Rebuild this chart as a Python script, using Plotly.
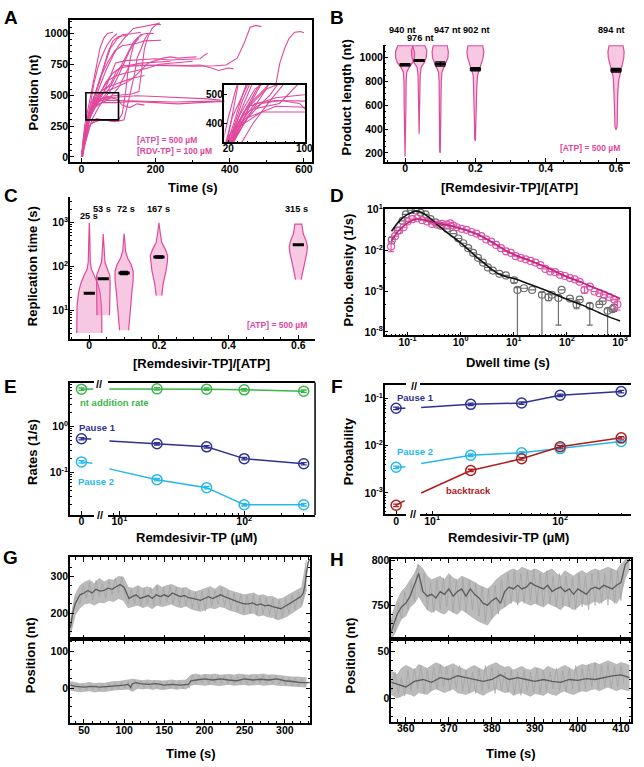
import plotly.graph_objects as go

W, H = 644, 767
FONT = "Liberation Sans, Arial, sans-serif"
PINK = "#e0489c"
PINK_FILL = "rgba(235,110,175,0.38)"
GREEN = "#3db54a"
DBLUE = "#2e3192"
LBLUE = "#25b7ea"
DRED = "#b01c1c"
RAW = "#b0b0b0"
SMOOTH = "#5c5c5c"

# ---------------- DATA ----------------
# A: trajectories (time s, position nt)
A_TIMES = [
    [0, 3, 6, 9, 14, 20, 28, 35, 42, 50, 60, 70, 85],
    [1, 5, 10, 18, 25, 35, 48, 60, 72, 85, 100, 125],
    [0, 6, 15, 24, 38, 50, 62, 78, 95, 110, 140, 160],
    [2, 8, 20, 34, 48, 66, 85, 100, 115, 140, 170, 200, 215],
    [0, 5, 14, 28, 44, 60, 75, 92, 120, 160, 200, 240, 280, 320, 330, 340],
    [3, 10, 22, 40, 58, 80, 95, 110, 150, 200, 260, 300, 360, 390, 420, 440, 455, 470, 485],
    [0, 12, 28, 48, 70, 100, 150, 200, 250, 300, 340, 375],
    [1, 15, 32, 55, 90, 140, 200, 260, 320, 380, 420],
    [0, 18, 40, 70, 120, 180, 250, 330, 420, 480, 510, 525, 535, 548, 560, 575, 590, 600],
    [2, 20, 42, 70, 100, 135, 155, 163, 170, 178, 190, 205, 212],
    [0, 25, 50, 80, 100, 115, 125, 135, 145, 150, 160, 170, 180],
    [1, 10, 25, 45, 65, 85, 105, 130, 170, 220, 280, 320, 350, 370, 395, 410],
    [0, 8, 20, 35, 50, 70, 90, 110, 130, 150, 170, 200, 215],
    [2, 14, 30, 50, 72, 95, 120, 150, 180, 210, 250, 290, 300],
    [0, 6, 16, 30, 46, 64, 80, 100, 120, 140, 160, 175, 195],
    [1, 10, 22, 36, 55, 75, 95, 110, 130, 150, 170],
    [0, 20, 40, 60, 80, 90, 100, 110, 118, 125, 132, 140, 150, 165],
    [3, 12, 28, 46, 64, 84, 100, 118, 130, 142, 155],
    [0, 4, 10, 18, 26, 34, 44, 56, 68, 82, 96],
    [2, 9, 19, 32, 48, 66, 84, 100, 120, 140, 155, 170],
    [0, 16, 36, 60, 90, 120, 140, 160, 180, 200, 220, 240, 260, 280, 310],
    [1, 22, 46, 74, 100, 130, 160, 200, 240],
]
A_POS = [
    [0, 80, 200, 260, 330, 420, 520, 640, 760, 880, 960, 1000, 1010],
    [0, 140, 220, 340, 380, 480, 600, 720, 850, 940, 975, 985],
    [0, 160, 300, 420, 520, 620, 740, 880, 950, 990, 1000, 1010],
    [0, 200, 330, 450, 560, 700, 820, 900, 960, 1040, 1060, 1075, 1070],
    [0, 100, 250, 380, 440, 520, 640, 760, 780, 790, 795, 785, 790, 795, 820, 840],
    [0, 180, 330, 460, 520, 600, 700, 740, 745, 740, 738, 735, 738, 745, 800, 930, 1050, 1065, 1055],
    [0, 240, 380, 470, 480, 485, 495, 490, 485, 480, 470, 460],
    [0, 280, 390, 440, 440, 450, 440, 430, 440, 450, 445],
    [0, 290, 420, 460, 455, 450, 445, 450, 450, 455, 470, 600, 760, 880, 960, 1010, 1015, 1005],
    [0, 300, 460, 490, 500, 510, 530, 700, 880, 960, 1040, 1080, 1085],
    [0, 270, 300, 295, 290, 300, 420, 560, 700, 800, 870, 950, 1000],
    [0, 150, 330, 480, 600, 680, 720, 735, 740, 745, 740, 745, 720, 700, 720, 715],
    [0, 180, 340, 500, 640, 760, 860, 900, 910, 920, 940, 945, 945],
    [0, 220, 400, 520, 620, 660, 680, 700, 720, 750, 760, 770, 775],
    [0, 120, 260, 380, 440, 500, 580, 700, 820, 930, 990, 1000, 1000],
    [0, 200, 360, 430, 470, 480, 470, 420, 400, 430, 420],
    [0, 250, 310, 300, 290, 285, 300, 350, 500, 680, 800, 900, 960, 990],
    [0, 140, 300, 400, 480, 560, 660, 780, 860, 920, 960],
    [0, 60, 180, 320, 460, 600, 720, 820, 900, 960, 1000],
    [0, 160, 310, 430, 520, 560, 580, 600, 620, 640, 650, 660],
    [0, 300, 440, 520, 560, 600, 640, 700, 760, 780, 800, 810, 800, 805, 810],
    [0, 320, 450, 470, 560, 740, 760, 770, 775],
]

# B: product length violins
B_X = [0.0, 0.04, 0.1, 0.2, 0.6]
B_MEAN = [940, 976, 947, 902, 894]
B_ERR = [9, 8, 18, 13, 15]
B_LABELS = ["940 nt", "976 nt", "947 nt", "902 nt", "894 nt"]
B_PROF_Y = [
    [170, 400, 600, 800, 880, 920, 960, 1000, 1050, 1100],
    [360, 600, 850, 920, 960, 1000, 1060, 1100],
    [200, 210, 400, 600, 800, 880, 920, 960, 1000, 1050, 1100],
    [300, 320, 450, 600, 750, 850, 900, 950, 1000, 1050, 1100],
    [395, 420, 500, 600, 700, 800, 850, 900, 950, 1000, 1050, 1100],
]
B_PROF_W = [
    [0.0, 0.002, 0.0025, 0.003, 0.005, 0.012, 0.022, 0.027, 0.027, 0.021],
    [0.0, 0.002, 0.003, 0.006, 0.015, 0.020, 0.022, 0.017],
    [0.0, 0.0015, 0.002, 0.002, 0.003, 0.005, 0.010, 0.017, 0.022, 0.023, 0.020],
    [0.0, 0.002, 0.0025, 0.003, 0.004, 0.006, 0.011, 0.017, 0.022, 0.024, 0.021],
    [0.0, 0.003, 0.0035, 0.004, 0.005, 0.007, 0.009, 0.013, 0.018, 0.022, 0.023, 0.020],
]

# C: replication time violins
C_X = [0.0, 0.04, 0.1, 0.2, 0.6]
C_MED = [25, 53, 72, 167, 315]
C_ERR = [0, 0, 6, 10, 0]
C_LABELS = ["25 s", "53 s", "72 s", "167 s", "315 s"]
C_PROF_Y = [
    [3.1, 6.3, 12.6, 25, 40, 63, 89, 126, 251, 501, 1000],
    [7.9, 20, 40, 63, 89, 126, 200, 316, 550],
    [3.6, 10, 25, 50, 79, 112, 158, 224, 316, 562],
    [22, 40, 79, 126, 178, 251, 355, 562, 1000],
    [51, 79, 126, 200, 282, 398, 562, 708, 933],
]
C_PROF_W = [
    [0.036, 0.036, 0.035, 0.031, 0.025, 0.015, 0.006, 0.003, 0.002, 0.0015, 0.0],
    [0.018, 0.019, 0.020, 0.019, 0.012, 0.005, 0.003, 0.002, 0.0],
    [0.013, 0.017, 0.022, 0.026, 0.026, 0.020, 0.010, 0.004, 0.003, 0.0],
    [0.008, 0.012, 0.020, 0.024, 0.025, 0.018, 0.008, 0.004, 0.0],
    [0.008, 0.012, 0.018, 0.024, 0.026, 0.022, 0.014, 0.012, 0.010],
]

# D: dwell time distributions (log10 values)
D_CTRL_LX = [-1.296, -1.185, -1.093, -1.031, -0.938, -0.846, -0.753, -0.66, -0.568, -0.475,
             -0.383, -0.259, -0.136, -0.043, 0.049, 0.142, 0.235, 0.327, 0.42, 0.512,
             0.605, 0.728, 0.852, 1.006, 1.068, 1.191, 1.346, 1.53, 1.654, 1.716,
             1.84, 1.90, 2.056, 2.18, 2.24, 2.43, 2.611, 2.673, 2.765, 2.858, 2.889]
D_CTRL_LY = [-1.25, -0.54, 0.17, 0.645, 0.95, 0.93, 0.76, 0.645, 0.29, 0.055,
             -0.18, -0.42, -0.77, -1.13, -1.48, -1.84, -2.19, -2.55, -2.90, -3.26,
             -3.49, -3.73, -3.85, -4.2, -4.91, -4.79, -4.91, -5.27, -5.45, -5.27,
             -5.5, -4.91, -5.55, -5.98, -5.62, -6.09, -5.98, -5.74, -6.45, -6.33, -6.21]
D_CTRL_ERR_IDX = [0, 23, 24, 27, 28, 30, 33, 35, 38, 40]
D_CTRL_ERR_LO = [-1.5, -4.4, -9.0, -9.0, -5.7, -7.5, -6.3, -7.5, -9.0, -6.5]
D_CTRL_ERR_HI = [-1.05, -4.05, -4.75, -5.1, -5.25, -5.35, -5.75, -5.9, -6.3, -6.0]
D_RDV_LX = [-1.309, -1.235, -1.154, -1.074, -1.0, -0.907, -0.815, -0.722, -0.63, -0.537,
            -0.444, -0.352, -0.259, -0.198, -0.136, -0.074, 0.019, 0.111, 0.204, 0.296,
            0.389, 0.481, 0.574, 0.667, 0.759, 0.852, 0.944, 1.037, 1.13, 1.222,
            1.315, 1.407, 1.5, 1.593, 1.685, 1.778, 1.87, 1.963, 2.056, 2.148,
            2.24, 2.33, 2.43, 2.52, 2.61, 2.70, 2.80, 2.89, 2.95]
D_RDV_LY = [-1.72, -0.96, -0.54, -0.30, 0.125, 0.29, 0.36, 0.22, 0.125, -0.06,
            -0.11, -0.06, -0.11, -0.02, -0.18, -0.30, -0.42, -0.49, -0.65, -0.77,
            -0.96, -1.2, -1.36, -1.6, -1.84, -2.07, -2.19, -2.43, -2.55, -2.66,
            -2.78, -2.9, -3.09, -3.37, -3.56, -3.61, -3.80, -3.89, -4.04, -4.13,
            -4.32, -4.91, -4.67, -5.03, -5.15, -5.27, -5.45, -5.62, -5.98]
D_RDV_ERR_IDX = [0, 41, 48]
D_RDV_ERR_LO = [-2.1, -5.15, -6.4]
D_RDV_ERR_HI = [-1.35, -4.7, -5.6]
D_CTRL_FIT_LX = [-1.301, -1.155, -1.0, -0.854, -0.745, -0.602, -0.456, -0.301, -0.155, 0.0,
                 0.176, 0.301, 0.477, 0.602, 0.699, 0.845, 1.0, 1.301, 1.699, 2.0, 2.301, 2.699, 3.0]
D_CTRL_FIT_LY = [-0.6, 0.15, 0.65, 0.88, 0.8, 0.45, -0.05, -0.55, -1.0, -1.45,
                 -2.05, -2.5, -3.05, -3.45, -3.7, -3.92, -4.08, -4.5, -5.1, -5.6, -6.05, -6.75, -7.2]
D_RDV_FIT_LX = [-1.301, -1.155, -1.0, -0.886, -0.77, -0.602, -0.398, -0.222, 0.0, 0.176,
                0.301, 0.477, 0.699, 0.845, 1.0, 1.301, 1.699, 2.0, 2.301, 2.699, 3.0]
D_RDV_FIT_LY = [-1.3, -0.5, 0.0, 0.25, 0.3, 0.15, -0.05, -0.15, -0.4, -0.62,
                -0.8, -1.15, -1.65, -2.0, -2.3, -2.75, -3.4, -3.95, -4.4, -5.05, -5.55]

# E: rates vs [RDV-TP]
CONC = [20, 50, 100, 300]
E_NT0, E_NT = 6.4, [6.5, 6.4, 6.2, 5.8]
E_P10, E_P1 = 0.54, [0.42, 0.36, 0.20, 0.155]
E_P20, E_P2 = 0.17, [0.07, 0.047, 0.020, 0.020]
E_BREAK_X = 8.3
E_BREAK = {"nt": (6.45, 6.45), "p1": (0.53, 0.48), "p2": (0.158, 0.12)}  # (stub end, log-seg start)

# F: probabilities vs [RDV-TP]
F_P10, F_P1 = 0.062, [0.075, 0.08, 0.117, 0.14]
F_P20, F_P2 = 0.0035, [0.0063, 0.0071, 0.0087, 0.0123]
F_BT0, F_BT = 0.00055, [0.0030, 0.0053, 0.0095, 0.0147]
F_BREAK_X = 8.2
F_BREAK = {"p1": (0.062, 0.064), "p2": (0.0036, 0.0042), "bt": (0.00069, 0.001)}

# G: raw-signal spread (upper / lower envelope on a regular time grid), raw samples, smoothed trace
G_T0, G_DT = 33, 4
G_BAND_T0, G_BAND_DT = 33, 6
G_TOP_HI = [180, 250, 275, 285, 290, 280, 295, 285, 292, 290, 300, 298, 270, 268, 275, 268, 272, 265, 278, 270,
            275, 278, 272, 268, 270, 262, 258, 262, 268, 272, 265, 275, 270, 262, 258, 255, 250, 252, 255, 248,
            250, 245, 245, 238, 240, 248, 255, 262, 270, 345]
G_TOP_LO = [140, 195, 215, 225, 228, 222, 230, 228, 235, 232, 240, 235, 215, 218, 222, 215, 220, 212, 222, 218,
            222, 225, 218, 215, 220, 212, 208, 205, 210, 215, 212, 218, 215, 208, 205, 200, 195, 198, 200, 192,
            195, 190, 188, 182, 185, 192, 200, 208, 218, 265]
G_TOP_RAW = [150, 215, 245, 225, 275, 240, 285, 235, 290, 245, 280, 240, 290, 250, 295, 255, 300, 250, 225, 265,
             225, 270, 220, 265, 225, 270, 220, 275, 225, 270, 230, 275, 225, 270, 222, 268, 220, 262, 215, 258,
             210, 260, 205, 265, 220, 262, 225, 270, 220, 262, 210, 255, 205, 250, 200, 248, 200, 250, 195, 245,
             198, 242, 195, 240, 185, 235, 190, 240, 200, 250, 210, 258, 225, 265, 340]
G_TOP_SM_T = [33, 36, 39, 42, 45, 50, 55, 60, 65, 70, 75, 80, 85, 90, 95, 100, 103, 106, 110, 115, 120, 125, 130,
              135, 140, 145, 150, 155, 160, 165, 170, 175, 180, 185, 190, 195, 200, 205, 210, 215, 220, 225, 230,
              235, 240, 245, 250, 255, 260, 265, 270, 275, 280, 285, 290, 295, 300, 305, 310, 315, 320, 323, 325,
              327, 329, 331]
G_TOP_SM_Y = [160, 200, 225, 240, 250, 255, 262, 255, 265, 260, 262, 268, 265, 272, 278, 270, 255, 240, 245, 250,
              240, 245, 248, 240, 250, 245, 250, 245, 255, 250, 245, 248, 242, 240, 238, 235, 240, 245, 240, 245,
              250, 245, 240, 235, 232, 228, 225, 225, 228, 222, 225, 220, 222, 218, 215, 212, 218, 225, 232, 238,
              245, 255, 275, 312, 338, 348]
G_BOT_HI = [18, 15, 12, 13, 15, 12, 14, 13, 16, 18, 18, 20, 22, 24, 22, 20, 22, 20, 21, 19,
            20, 22, 20, 22, 22, 35, 38, 35, 37, 36, 38, 35, 36, 37, 35, 38, 36, 35, 37, 36,
            38, 35, 36, 34, 33, 32, 30, 30, 28, 28]
G_BOT_LO = [-5, -8, -10, -8, -7, -10, -8, -9, -6, -5, -4, -3, -2, -8, 0, -2, 0, -3, -1, -4,
            -2, 0, -3, -1, -2, 8, 10, 9, 8, 10, 9, 7, 9, 10, 8, 9, 10, 8, 9, 10,
            8, 9, 10, 8, 7, 6, 5, 4, 3, 3]
G_BOT_RAW = [15, -2, 12, -5, 10, -6, 12, -3, 10, -5, 11, -4, 12, -3, 14, -2, 16, 0, 18, -8,
             22, 3, 20, 2, 18, 0, 20, 2, 18, -2, 17, 0, 18, -1, 17, -2, 18, 0, 35, 12,
             34, 14, 36, 12, 33, 14, 35, 13, 34, 12, 32, 10, 33, 12, 35, 13, 34, 12, 33, 14,
             35, 12, 33, 12, 34, 10, 30, 8, 28, 6, 26, 5, 25, 6, 18]
G_BOT_SM_T = [33, 40, 50, 60, 70, 80, 90, 100, 105, 108, 110, 115, 120, 130, 140, 150, 160, 170, 180, 183, 190,
              200, 210, 220, 230, 240, 250, 260, 270, 280, 290, 300, 310, 320, 331]
G_BOT_SM_Y = [8, 5, 3, 5, 3, 4, 6, 8, 10, 2, 12, 15, 12, 10, 12, 8, 10, 8, 10, 20, 22,
              25, 22, 25, 22, 20, 25, 22, 24, 22, 25, 20, 18, 15, 15]

# H: traces
H_T0, H_DT = 356, 0.75
H_BAND_T0, H_BAND_DT = 356, 1
H_TOP_HI = [720, 742, 755, 765, 770, 778, 785, 795, 790, 782, 778, 780, 782, 778, 785, 780, 778, 782, 780, 778,
            775, 772, 770, 768, 772, 778, 782, 785, 788, 790, 788, 792, 790, 788, 790, 788, 785, 788, 790, 785,
            782, 788, 785, 782, 786, 788, 785, 788, 790, 788, 790, 792, 790, 788, 795, 800, 805]
H_TOP_LO = [700, 715, 725, 735, 738, 748, 752, 760, 752, 745, 742, 745, 742, 740, 745, 742, 740, 745, 742, 738,
            735, 732, 730, 728, 735, 740, 745, 748, 752, 755, 752, 755, 752, 750, 752, 750, 748, 752, 750, 748,
            745, 750, 748, 745, 748, 752, 750, 752, 755, 752, 755, 758, 755, 752, 760, 780, 790]
H_TOP_RAW = [700, 735, 720, 752, 735, 765, 745, 775, 755, 795, 765, 785, 745, 775, 742, 778, 745, 780, 748, 782,
             742, 778, 745, 780, 742, 778, 745, 775, 738, 770, 732, 768, 735, 772, 740, 778, 748, 785, 752, 788,
             750, 785, 752, 788, 755, 790, 752, 785, 750, 788, 752, 782, 748, 785, 750, 782, 748, 780, 745, 785,
             748, 782, 745, 785, 750, 788, 752, 785, 750, 790, 752, 788, 755, 790, 805]
H_TOP_SM_T = [356, 357, 358, 359, 360, 361, 362, 363, 363.5, 364, 365, 366, 367, 368, 369, 370, 371, 372, 373,
              374, 375, 376, 377, 378, 379, 380, 381, 382, 383, 384, 385, 386, 387, 388, 389, 390, 391, 392, 393,
              394, 395, 396, 397, 398, 399, 400, 401, 402, 403, 404, 405, 406, 407, 408, 409, 410, 410.5, 411, 412]
H_TOP_SM_Y = [712, 725, 740, 748, 752, 760, 772, 785, 775, 765, 760, 762, 758, 765, 762, 768, 760, 765, 768,
              760, 768, 762, 758, 752, 750, 755, 758, 752, 765, 770, 768, 772, 768, 770, 775, 772, 770, 768, 772,
              765, 768, 770, 765, 768, 762, 768, 765, 762, 768, 770, 768, 772, 770, 768, 772, 775, 785, 795, 800]
H_BOT_HI = [30, 28, 25, 32, 35, 33, 30, 36, 34, 32, 35, 38, 36, 33, 35, 37, 34, 32, 30, 33,
            35, 32, 30, 34, 36, 38, 35, 33, 34, 30, 32, 34, 31, 30, 33, 32, 30, 34, 32, 30,
            33, 35, 32, 30, 34, 36, 35, 37, 38, 36, 38, 40, 38, 36, 38, 37, 35]
H_BOT_LO = [5, 3, 0, 2, 5, 4, 2, 6, 5, 4, 8, 10, 8, 6, 8, 10, 6, 5, 4, 6,
            8, 5, 3, 6, 8, 10, 8, 6, 7, 3, 5, 6, 4, 2, 5, 4, 3, 6, 4, 3,
            6, 8, 5, 4, 6, 8, 7, 9, 10, 8, 10, 12, 10, 8, 10, 9, 8]
H_BOT_RAW = [25, 8, 28, 5, 22, 2, 30, 8, 32, 10, 35, 5, 30, 8, 33, 10, 36, 12, 34, 8,
             32, 10, 35, 8, 30, 6, 28, 5, 32, 8, 35, 10, 33, 5, 30, 8, 28, 6, 30, 5,
             28, 3, 30, 8, 28, 6, 32, 5, 30, 8, 28, 10, 32, 8, 30, 6, 33, 10, 35, 8,
             32, 10, 36, 12, 38, 10, 35, 12, 36, 10, 34, 12, 35, 15]
H_BOT_SM_T = [356, 358, 360, 362, 364, 366, 368, 370, 372, 374, 376, 378, 380, 382, 384, 386, 388, 390, 392,
              394, 396, 398, 400, 402, 404, 406, 408, 410, 412]
H_BOT_SM_Y = [18, 15, 12, 18, 20, 17, 22, 20, 24, 22, 20, 18, 20, 25, 20, 22, 20, 18, 20,
              18, 17, 20, 19, 21, 20, 22, 24, 25, 22]

# ---------------- HELPERS ----------------
def xd(a, b):
    return [a / W, b / W]


def yd(top, bot):
    return [1 - bot / H, 1 - top / H]


TICKFONT = dict(family=FONT, size=10.5, color="black", weight="bold")


def ax(**kw):
    d = dict(showline=True, linecolor="black", linewidth=1.5, ticks="inside", ticklen=4,
             tickwidth=1.2, tickcolor="black", showgrid=False, zeroline=False,
             tickfont=TICKFONT, layer="above traces")
    d.update(kw)
    return d


def xax(**kw):
    return ax(ticklabelstandoff=-4, **kw)


def yax(**kw):
    return ax(ticklabelstandoff=-2, **kw)


def sup(n):
    return "10<sup>%d</sup>" % n


annotations = []


def ann(text, x, y, size=10, color="black", xanchor="center", angle=0, bold=True):
    annotations.append(dict(text=text, x=x / W, y=1 - y / H, xref="paper", yref="paper",
                            showarrow=False, xanchor=xanchor, yanchor="middle", textangle=angle,
                            font=dict(family=FONT, size=size, color=color,
                                      weight="bold" if bold else "normal")))


fig = go.Figure()

# ---------------- A ----------------
for t, p in zip(A_TIMES, A_POS):
    fig.add_trace(go.Scatter(x=t, y=p, mode="lines", line=dict(color=PINK, width=1.1),
                             xaxis="x", yaxis="y", showlegend=False, hoverinfo="skip"))
for t, p in zip(A_TIMES, A_POS):
    fig.add_trace(go.Scatter(x=t, y=p, mode="lines", line=dict(color=PINK, width=1.1),
                             xaxis="x2", yaxis="y2", showlegend=False, hoverinfo="skip"))

# ---------------- B ----------------
def violin(xc, ys, ws, xa, ya):
    xs = [xc - w for w in ws] + [xc + w for w in reversed(ws)]
    yy = list(ys) + list(reversed(ys))
    fig.add_trace(go.Scatter(x=xs, y=yy, mode="lines", fill="toself", fillcolor=PINK_FILL,
                             line=dict(color=PINK, width=1.2), xaxis=xa, yaxis=ya,
                             showlegend=False, hoverinfo="skip"))


for xc, ys, ws in zip(B_X, B_PROF_Y, B_PROF_W):
    violin(xc, ys, ws, "x3", "y3")
fig.add_trace(go.Scatter(x=B_X, y=B_MEAN, mode="markers", xaxis="x3", yaxis="y3",
                         marker=dict(symbol="line-ew", size=8, line=dict(color="black", width=3)),
                         error_y=dict(type="data", array=B_ERR, color="black", thickness=1.3, width=5),
                         showlegend=False))

# ---------------- C ----------------
for xc, ys, ws in zip(C_X, C_PROF_Y, C_PROF_W):
    violin(xc, ys, ws, "x4", "y4")
fig.add_trace(go.Scatter(x=C_X, y=C_MED, mode="markers", xaxis="x4", yaxis="y4",
                         marker=dict(symbol="line-ew", size=8, line=dict(color="black", width=3)),
                         error_y=dict(type="data", array=C_ERR, color="black", thickness=1.3, width=4),
                         showlegend=False))

# ---------------- D ----------------
def pw(v):
    return [10 ** a for a in v]


def errs(ly, idx, lo, hi):
    em = [0.0] * len(ly)
    ep = [0.0] * len(ly)
    for i, l, h in zip(idx, lo, hi):
        y = 10 ** ly[i]
        em[i] = y - 10 ** l
        ep[i] = 10 ** h - y
    return em, ep


em, ep = errs(D_CTRL_LY, D_CTRL_ERR_IDX, D_CTRL_ERR_LO, D_CTRL_ERR_HI)
fig.add_trace(go.Scatter(x=pw(D_CTRL_LX), y=pw(D_CTRL_LY), mode="markers", xaxis="x5", yaxis="y5",
                         marker=dict(symbol="circle-open", size=7, color="#6e6e6e", line=dict(width=1.2)),
                         error_y=dict(type="data", array=ep, arrayminus=em, color="#6e6e6e",
                                      thickness=1.2, width=3), showlegend=False))
em, ep = errs(D_RDV_LY, D_RDV_ERR_IDX, D_RDV_ERR_LO, D_RDV_ERR_HI)
fig.add_trace(go.Scatter(x=pw(D_RDV_LX), y=pw(D_RDV_LY), mode="markers", xaxis="x5", yaxis="y5",
                         marker=dict(symbol="circle-open", size=7, color="#e353a6", line=dict(width=1.2)),
                         error_y=dict(type="data", array=ep, arrayminus=em, color="#e353a6",
                                      thickness=1.2, width=3), showlegend=False))
fig.add_trace(go.Scatter(x=pw(D_CTRL_FIT_LX), y=pw(D_CTRL_FIT_LY), mode="lines", xaxis="x5", yaxis="y5",
                         line=dict(color="#111111", width=1.6, shape="spline"), showlegend=False))
fig.add_trace(go.Scatter(x=pw(D_RDV_FIT_LX), y=pw(D_RDV_FIT_LY), mode="lines", xaxis="x5", yaxis="y5",
                         line=dict(color="#c2207e", width=1.6, shape="spline"), showlegend=False))

# ---------------- E / F ----------------
def broken_series(v0, vals, brk, brkx, color, xa0, xa1, ya, stub_x):
    mk = dict(symbol="circle-open", size=10, color=color, line=dict(width=1.5))
    fig.add_trace(go.Scatter(x=[0, stub_x], y=[v0, brk[0]], mode="lines", line=dict(color=color, width=1.5),
                             xaxis=xa0, yaxis=ya, showlegend=False))
    fig.add_trace(go.Scatter(x=[0], y=[v0], mode="markers", marker=mk, xaxis=xa0, yaxis=ya,
                             error_y=dict(type="percent", value=6, color=color, thickness=1.3, width=3),
                             cliponaxis=False, showlegend=False))
    fig.add_trace(go.Scatter(x=[brkx] + CONC, y=[brk[1]] + vals, mode="lines", line=dict(color=color, width=1.5),
                             xaxis=xa1, yaxis=ya, showlegend=False))
    fig.add_trace(go.Scatter(x=CONC, y=vals, mode="markers", marker=mk, xaxis=xa1, yaxis=ya,
                             error_y=dict(type="percent", value=6, color=color, thickness=1.3, width=3),
                             cliponaxis=False, showlegend=False))


broken_series(E_NT0, E_NT, E_BREAK["nt"], E_BREAK_X, GREEN, "x6", "x7", "y6", 1.05)
broken_series(E_P10, E_P1, E_BREAK["p1"], E_BREAK_X, DBLUE, "x6", "x7", "y6", 0.85)
broken_series(E_P20, E_P2, E_BREAK["p2"], E_BREAK_X, LBLUE, "x6", "x7", "y6", 0.94)
broken_series(F_P10, F_P1, F_BREAK["p1"], F_BREAK_X, DBLUE, "x8", "x9", "y7", 1.0)
broken_series(F_P20, F_P2, F_BREAK["p2"], F_BREAK_X, LBLUE, "x8", "x9", "y7", 1.0)
broken_series(F_BT0, F_BT, F_BREAK["bt"], F_BREAK_X, DRED, "x8", "x9", "y7", 0.9)

# ---------------- G / H ----------------
def grid(t0, dt, n):
    return [t0 + dt * i for i in range(n)]


for hi, lo, bt0, bdt, raw, t0, dt, st, sy, xa, ya in [
    (G_TOP_HI, G_TOP_LO, G_BAND_T0, G_BAND_DT, G_TOP_RAW, G_T0, G_DT, G_TOP_SM_T, G_TOP_SM_Y, "x10", "y8"),
    (G_BOT_HI, G_BOT_LO, G_BAND_T0, G_BAND_DT, G_BOT_RAW, G_T0, G_DT, G_BOT_SM_T, G_BOT_SM_Y, "x11", "y9"),
    (H_TOP_HI, H_TOP_LO, H_BAND_T0, H_BAND_DT, H_TOP_RAW, H_T0, H_DT, H_TOP_SM_T, H_TOP_SM_Y, "x12", "y10"),
    (H_BOT_HI, H_BOT_LO, H_BAND_T0, H_BAND_DT, H_BOT_RAW, H_T0, H_DT, H_BOT_SM_T, H_BOT_SM_Y, "x13", "y11"),
]:
    bt = grid(bt0, bdt, len(hi))
    fig.add_trace(go.Scatter(x=bt, y=hi, mode="lines", line=dict(color=RAW, width=0.8),
                             xaxis=xa, yaxis=ya, showlegend=False))
    fig.add_trace(go.Scatter(x=bt, y=lo, mode="lines", line=dict(color=RAW, width=0.8), fill="tonexty",
                             fillcolor="rgba(180,180,180,0.9)", xaxis=xa, yaxis=ya, showlegend=False))
    fig.add_trace(go.Scatter(x=grid(t0, dt, len(raw)), y=raw, mode="lines", line=dict(color="#a2a2a2", width=0.7),
                             xaxis=xa, yaxis=ya, showlegend=False))
    fig.add_trace(go.Scatter(x=st, y=sy, mode="lines", line=dict(color=SMOOTH, width=1.3),
                             xaxis=xa, yaxis=ya, showlegend=False))

# ---------------- AXES ----------------
lay = {}
# A
lay["xaxis"] = xax(domain=xd(69, 315), range=[-31, 622], tickvals=[0, 200, 400, 600], anchor="y", mirror=True,
                   minor=dict(ticks="inside", ticklen=2, dtick=100))
lay["yaxis"] = yax(domain=yd(13, 157), range=[-42, 1110], tickvals=[0, 250, 500, 750, 1000], anchor="x",
                   mirror=True, minor=dict(ticks="inside", ticklen=2, dtick=50))
lay["xaxis2"] = xax(domain=xd(226, 308), range=[16, 101], tickvals=[20, 100], anchor="y2", mirror=True,
                    ticklen=3, tickfont=dict(TICKFONT, size=10),
                    minor=dict(ticks="inside", ticklen=2, dtick=10))
lay["yaxis2"] = yax(domain=yd(79, 137), range=[334, 534], tickvals=[400, 500], anchor="x2", mirror=True,
                    ticklen=3, tickfont=dict(TICKFONT, size=10))
# B
lay["xaxis3"] = xax(domain=xd(388.7, 638), range=[-0.058, 0.64], tickvals=[0, 0.2, 0.4, 0.6],
                    ticktext=["0", "0.2", "0.4", "0.6"], anchor="y3",
                    minor=dict(ticks="inside", ticklen=2, dtick=0.05))
lay["yaxis3"] = yax(domain=yd(38, 156.7), range=[125, 1110], tickvals=[200, 400, 600, 800, 1000], anchor="x3",
                    minor=dict(ticks="inside", ticklen=2, dtick=50))
# C
lay["xaxis4"] = xax(domain=xd(69, 318), range=[-0.0555, 0.648], tickvals=[0, 0.2, 0.4, 0.6],
                    ticktext=["0", "0.2", "0.4", "0.6"], anchor="y4",
                    minor=dict(ticks="inside", ticklen=2, dtick=0.05))
lay["yaxis4"] = yax(domain=yd(192, 335.7), type="log", range=[0.362, 3.59], tickvals=[10, 100, 1000],
                    ticktext=[sup(1), sup(2), sup(3)], anchor="x4",
                    minor=dict(ticks="inside", ticklen=2, dtick="D1"))
# D
lay["xaxis5"] = xax(domain=xd(388.7, 637), type="log", range=[-1.43, 3.17], tickvals=[0.1, 1, 10, 100, 1000],
                    ticktext=[sup(-1), sup(0), sup(1), sup(2), sup(3)], anchor="y5", mirror=True,
                    minor=dict(ticks="inside", ticklen=2, dtick="D1"))
lay["yaxis5"] = yax(domain=yd(204, 332.3), type="log", range=[-8.26, 1.07], tickvals=[10, 1e-2, 1e-5, 1e-8],
                    ticktext=[sup(1), sup(-2), sup(-5), sup(-8)], anchor="x5", mirror=True,
                    minor=dict(ticks="inside", ticklen=2, dtick=1))
# E
lay["yaxis6"] = yax(domain=yd(380, 514), type="log", range=[-1.92, 0.95], tickvals=[0.1, 1, 10],
                    ticktext=[sup(-1), sup(0), sup(1)], anchor="x6",
                    minor=dict(ticks="inside", ticklen=2, dtick="D1"))
lay["xaxis6"] = xax(domain=xd(69, 93), range=[-1, 1.05], tickvals=[0], anchor="y6", mirror=True)
lay["xaxis7"] = xax(domain=xd(108, 318), type="log", range=[0.911, 2.568], tickvals=[10, 100],
                    ticktext=[sup(1), sup(2)], anchor="y6", mirror=True,
                    minor=dict(ticks="inside", ticklen=2, dtick="D1"))
# F
lay["yaxis7"] = yax(domain=yd(382.7, 513.3), type="log", range=[-3.45, -0.72], tickvals=[0.001, 0.01, 0.1],
                    ticktext=[sup(-3), sup(-2), sup(-1)], anchor="x8",
                    minor=dict(ticks="inside", ticklen=2, dtick="D1"))
lay["xaxis8"] = xax(domain=xd(388.7, 410), range=[-1.2, 1.0], tickvals=[0], anchor="y7", mirror=True)
lay["xaxis9"] = xax(domain=xd(425, 638.7), type="log", range=[0.908, 2.552], tickvals=[10, 100],
                    ticktext=[sup(1), sup(2)], anchor="y7", mirror=True,
                    minor=dict(ticks="inside", ticklen=2, dtick="D1"))
# G
gx = dict(range=[32.5, 331.5], tickvals=[50, 100, 150, 200, 250, 300], mirror="ticks", ticklen=5,
          minor=dict(ticks="inside", ticklen=3, dtick=10))
lay["xaxis10"] = xax(domain=xd(69, 313), anchor="y8", showticklabels=False, **gx)
lay["xaxis11"] = xax(domain=xd(69, 313), anchor="y9", **gx)
lay["yaxis8"] = yax(domain=yd(557, 640), range=[128, 352], tickvals=[200, 300], anchor="x10", mirror="ticks",
                    minor=dict(ticks="inside", ticklen=2, dtick=25))
lay["yaxis9"] = yax(domain=yd(640, 725), range=[-95, 131], tickvals=[0, 100], anchor="x11", mirror="ticks",
                    minor=dict(ticks="inside", ticklen=2, dtick=25))
# H
hx = dict(range=[356.6, 412.3], tickvals=[360, 370, 380, 390, 400, 410], mirror="ticks", ticklen=5,
          minor=dict(ticks="inside", ticklen=3, dtick=2))
lay["xaxis12"] = xax(domain=xd(395.3, 638.7), anchor="y10", showticklabels=False, **hx)
lay["xaxis13"] = xax(domain=xd(395.3, 638.7), anchor="y11", **hx)
lay["yaxis10"] = yax(domain=yd(558.3, 640), range=[712, 801.4], tickvals=[750, 800], anchor="x12",
                     mirror="ticks", minor=dict(ticks="inside", ticklen=2, dtick=10))
lay["yaxis11"] = yax(domain=yd(640, 723.3), range=[-25.5, 63], tickvals=[0, 50], anchor="x13",
                     mirror="ticks", minor=dict(ticks="inside", ticklen=2, dtick=10))

# ---------------- SHAPES ----------------
shapes = [
    dict(type="rect", xref="x", yref="y", x0=12, x1=100, y0=300, y1=520, line=dict(color="black", width=1.6)),
    dict(type="line", xref="paper", yref="paper", x0=318 / W, x1=318 / W, y0=1 - 514 / H, y1=1 - 380 / H,
         line=dict(color="black", width=1.5)),
]

# ---------------- TEXT ----------------
TS = 13
for L, x, y in [("A", 9, 11), ("B", 340, 11), ("C", 9, 191), ("D", 340, 191),
                ("E", 9, 384), ("F", 340, 384), ("G", 9, 557), ("H", 340, 559)]:
    ann(L, x, y, size=19)
ann("Position (nt)", 33, 86, TS, angle=-90)
ann("Time (s)", 194, 182.7, TS)
ann("Product length (nt)", 350, 92, TS, angle=-90)
ann("[Remdesivir-TP]/[ATP]", 515, 182.7, TS)
ann("Replication time (s)", 31.7, 262, TS, angle=-90)
ann("[Remdesivir-TP]/[ATP]", 203, 360.7, TS)
ann("Prob. density (1/s)", 352, 266, TS, angle=-90)
ann("Dwell time (s)", 514, 360, TS)
ann("Rates (1/s)", 31.7, 450, TS, angle=-90)
ann("Remdesivir-TP (µM)", 198, 537, TS)
ann("Probability", 352, 450, TS, angle=-90)
ann("Remdesivir-TP (µM)", 514, 537, TS)
ann("Position (nt)", 28.3, 656, TS, angle=-90)
ann("Time (s)", 192, 755, TS)
ann("Position (nt)", 353.7, 656, TS, angle=-90)
ann("Time (s)", 517, 755, TS)
ann("[ATP] = 500 µM", 135, 135, 8.5, PINK, "left")
ann("[RDV-TP] = 100 µM", 135, 146, 8.5, PINK, "left")
for lab, x, y in zip(B_LABELS, [407, 425, 453, 482, 619], [23, 31, 23, 23, 23]):
    ann(lab, x, y, 9.2)
ann("[ATP] = 500 µM", 630, 143, 8.5, PINK, "right")
for lab, x, y in zip(C_LABELS, [88, 102, 126, 159, 299], [211, 204, 204, 204, 204]):
    ann(lab, x, y, 9.2)
ann("[ATP] = 500 µM", 312, 322, 8.5, PINK, "right")
ann("nt addition rate", 77, 400, 9.5, GREEN, "left")
ann("Pause 1", 76, 425.7, 9.5, DBLUE, "left")
ann("Pause 2", 75, 480, 9.5, LBLUE, "left")
ann("Pause 1", 399.7, 395, 9.5, DBLUE, "left")
ann("Pause 2", 399.7, 450, 9.5, LBLUE, "left")
ann("backtrack", 448.7, 489, 9.5, DRED, "left")
for x, y in [(99, 381), (100, 514), (418, 383), (417, 513)]:
    ann("//", x, y, 11)

fig.update_layout(width=W, height=H, margin=dict(l=0, r=0, t=0, b=0), paper_bgcolor="white",
                  plot_bgcolor="white", showlegend=False, annotations=annotations, shapes=shapes,
                  font=dict(family=FONT), **lay)
fig.write_html("out.html", config={"displayModeBar": False},
               post_script="document.body.style.margin='0';document.body.style.overflow='hidden';")
